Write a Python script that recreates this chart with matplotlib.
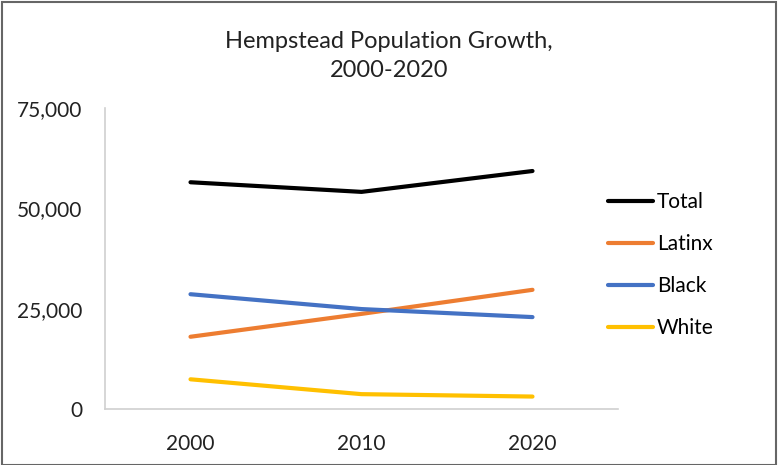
import matplotlib.pyplot as plt
from matplotlib.patches import Rectangle
from matplotlib.ticker import FuncFormatter

plt.rcParams['font.family'] = ['Lato', 'DejaVu Sans']

years = ['2000', '2010', '2020']
total = [56500, 54100, 59300]
latinx = [18000, 23700, 29700]
black = [28600, 24900, 22900]
white = [7400, 3700, 3100]

fig = plt.figure(figsize=(7.78, 4.65), dpi=100)
ax = fig.add_axes([105/778, 1-409/465, 513/778, 301/465])

x = range(len(years))
ax.plot(x, total, color='black', lw=3, label='Total', solid_capstyle='round')
ax.plot(x, latinx, color='#ED7D31', lw=3, label='Latinx', solid_capstyle='round')
ax.plot(x, black, color='#4472C4', lw=3, label='Black', solid_capstyle='round')
ax.plot(x, white, color='#FFC000', lw=3, label='White', solid_capstyle='round')

ax.set_xlim(-0.5, 2.5)
ax.set_ylim(0, 75000)
ax.set_xticks(list(x))
ax.set_xticklabels(years)
ax.set_yticks([0, 25000, 50000, 75000])
ax.yaxis.set_major_formatter(FuncFormatter(lambda v, p: f'{int(v):,}'))
ax.tick_params(length=0, labelsize=15, colors='#222222')
ax.tick_params(axis='x', pad=18)
ax.tick_params(axis='y', pad=16.5)
for s in ['top', 'right']:
    ax.spines[s].set_visible(False)
for s in ['left', 'bottom']:
    ax.spines[s].set_color('#D0D0D0')
    ax.spines[s].set_linewidth(1.2)

fig.text(0.5, 1-56/465, 'Hempstead Population Growth,\n2000-2020', ha='center', va='center',
         fontsize=17, color='#222222', linespacing=1.5)

leg = ax.legend(loc='center left', bbox_to_anchor=(608/778, 1-265/465), bbox_transform=fig.transFigure,
                frameon=False, fontsize=15, borderpad=0, borderaxespad=0,
                handlelength=2.15, handletextpad=0.2, labelspacing=1.05)

fig.patches.append(Rectangle((0.002, 0.0), 0.996, 0.996, transform=fig.transFigure,
                             fill=False, edgecolor='#666666', lw=1.5))

fig.savefig('out.png', dpi=100)
